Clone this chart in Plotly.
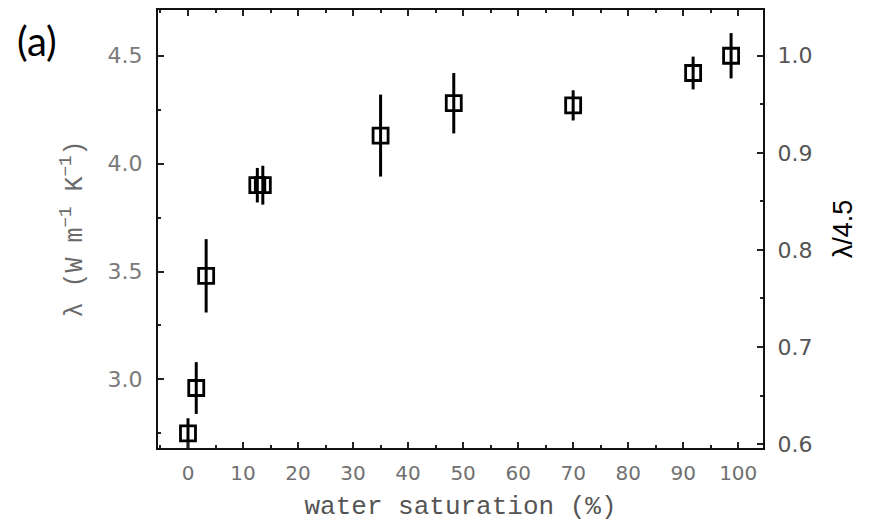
import plotly.graph_objects as go

# Data
saturation = [0, 1.5, 3.3, 12.6, 13.6, 35, 48.3, 70, 91.8, 98.7]
conductivity = [2.75, 2.96, 3.48, 3.90, 3.90, 4.13, 4.28, 4.27, 4.42, 4.50]
error = [0.07, 0.12, 0.17, 0.08, 0.09, 0.19, 0.14, 0.07, 0.076, 0.105]

x_ticks = [0, 10, 20, 30, 40, 50, 60, 70, 80, 90, 100]
y_ticks = [3.0, 3.5, 4.0, 4.5]
y2_ticks = [0.6, 0.7, 0.8, 0.9, 1.0]
norm = 4.5

y_range = [2.682, 4.712]
x_range = [-5.45, 104.5]

fig = go.Figure()
fig.add_trace(go.Scatter(
    x=saturation, y=conductivity, mode="markers",
    marker=dict(symbol="square-open", size=15, color="black",
                line=dict(width=2.8, color="black")),
    error_y=dict(type="data", array=error, visible=True,
                 thickness=3, width=0, color="black"),
    showlegend=False,
))
# invisible trace to activate the right axis
fig.add_trace(go.Scatter(
    x=[None], y=[None], yaxis="y2", showlegend=False, hoverinfo="skip"))

fig.update_layout(
    width=869, height=528,
    margin=dict(l=158, r=106, t=8, b=80),
    paper_bgcolor="white", plot_bgcolor="white",
    xaxis=dict(
        range=x_range, tickvals=x_ticks, ticktext=[str(v) for v in x_ticks],
        ticks="inside", ticklen=6, tickwidth=1.5, tickcolor="#222",
        minor=dict(dtick=5, tick0=0, ticks="inside", ticklen=3, tickcolor="#222"),
        showline=True, linewidth=2, linecolor="#111", mirror="ticks",
        showgrid=False, zeroline=False,
        tickfont=dict(family="DejaVu Sans", size=20, color="#707070"),
        ticklabelstandoff=6,
        title=dict(text="water saturation (%)",
                   font=dict(family="Liberation Mono", size=26, color="#555"),
                   standoff=12),
    ),
    yaxis=dict(
        range=y_range, tickvals=y_ticks, ticktext=[f"{v:.1f}" for v in y_ticks],
        ticks="inside", ticklen=6, tickwidth=1.5, tickcolor="#222",
        minor=dict(dtick=0.25, tick0=0, ticks="inside", ticklen=3, tickcolor="#222"),
        showline=True, linewidth=2, linecolor="#111",
        showgrid=False, zeroline=False,
        tickfont=dict(family="DejaVu Sans", size=22, color="#7a7a7a"),
        ticklabelstandoff=9,
        title=dict(text="λ (W m<sup>−1</sup> K<sup>−1</sup>)",
                   font=dict(family="Liberation Mono", size=25, color="#6a6a6a"),
                   standoff=18),
    ),
    yaxis2=dict(
        overlaying="y", side="right",
        range=[y_range[0] / norm, y_range[1] / norm],
        tickvals=y2_ticks, ticktext=[f"{v:.1f}" for v in y2_ticks],
        ticks="inside", ticklen=6, tickwidth=1.5, tickcolor="#222",
        minor=dict(dtick=0.05, tick0=0, ticks="inside", ticklen=3, tickcolor="#222"),
        showline=True, linewidth=2, linecolor="#111",
        showgrid=False, zeroline=False,
        tickfont=dict(family="DejaVu Sans", size=22, color="#555"),
        ticklabelstandoff=8,
        title=dict(text="λ/4.5",
                   font=dict(family="Liberation Sans", size=27, color="black"),
                   standoff=22),
    ),
    annotations=[dict(
        text="(a)", xref="paper", yref="paper", x=-0.2, y=0.93,
        xanchor="center", yanchor="middle", showarrow=False,
        font=dict(family="Lato", size=40, color="black"),
    )],
)

fig.write_html("out.html")
